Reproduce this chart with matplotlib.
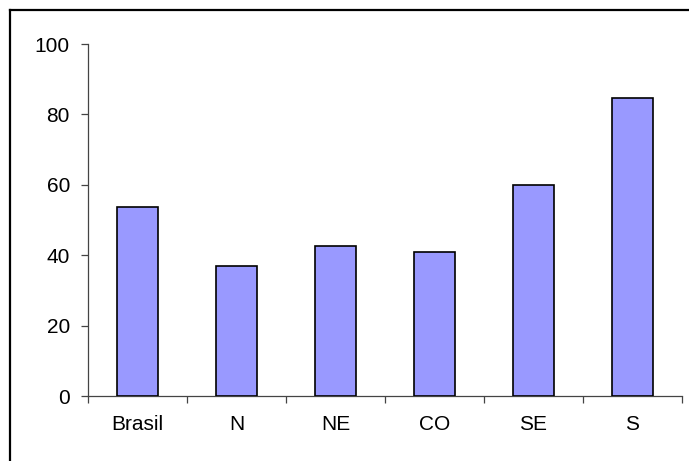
import matplotlib
matplotlib.use("Agg")
import matplotlib.pyplot as plt
from matplotlib.lines import Line2D
import numpy as np

plt.rcParams['font.family'] = ['Liberation Sans', 'DejaVu Sans']

regions = ["Brasil", "N", "NE", "CO", "SE", "S"]
values = [53.8, 36.8, 42.7, 40.8, 60.0, 84.6]
y_ticks = [0, 20, 40, 60, 80, 100]

W, H = 689, 461
fig = plt.figure(figsize=(W / 100, H / 100), dpi=100)

# frame around the chart area (left and top edges)
fig.add_artist(Line2D([10 / W, 10 / W], [0, 1 - 10 / H], transform=fig.transFigure,
                      color='black', linewidth=1.6))
fig.add_artist(Line2D([10 / W, 1], [1 - 10 / H, 1 - 10 / H], transform=fig.transFigure,
                      color='black', linewidth=1.6))

ax = fig.add_axes([88 / W, 1 - 396 / H, (682 - 88) / W, (396 - 44) / H])

x = np.arange(len(regions))
ax.bar(x, values, width=0.405, color='#9999FF', edgecolor='black', linewidth=1.2, zorder=3)

ax.set_xlim(-0.5, len(regions) - 0.5)
ax.set_ylim(0, 100)

for side in ('top', 'right'):
    ax.spines[side].set_visible(False)
for side in ('left', 'bottom'):
    ax.spines[side].set_color('#444444')
    ax.spines[side].set_linewidth(0.9)

ax.set_yticks(y_ticks)
ax.set_yticklabels([str(v) for v in y_ticks])
ax.tick_params(axis='y', length=5, width=0.9, color='#444444', pad=8, labelsize=15)

# category boundary ticks on the x axis, labels centred between them
ax.set_xticks(np.arange(-0.5, len(regions), 1.0))
ax.set_xticklabels([])
ax.set_xticks(x, minor=True)
ax.set_xticklabels(regions, minor=True)
ax.tick_params(axis='x', which='major', length=5, width=0.9, color='#444444')
ax.tick_params(axis='x', which='minor', length=0, pad=14, labelsize=15)

fig.savefig('out.png', dpi=100)
